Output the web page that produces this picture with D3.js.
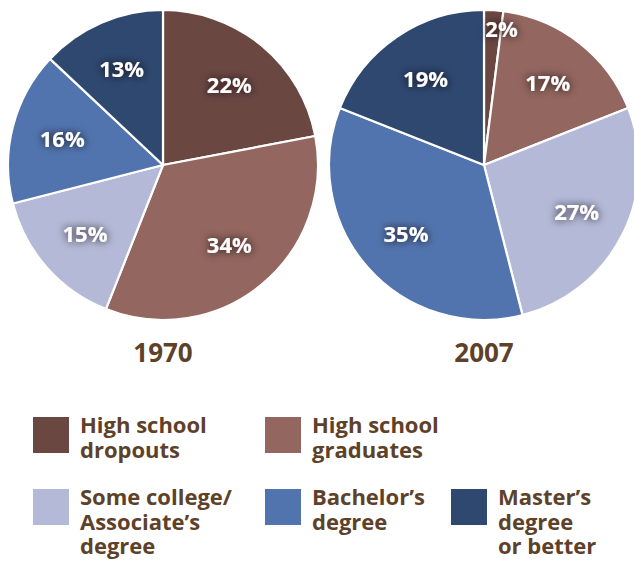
<!DOCTYPE html>
<html>
<head>
<meta charset="utf-8">
<script src="https://cdn.jsdelivr.net/npm/d3@7"></script>
<style>
  html, body { margin: 0; padding: 0; background: #ffffff; }
  svg { display: block; }
</style>
</head>
<body>
<div id="chart"></div>
<script>
// ---- Data ----
const categories = ["High school dropouts", "High school graduates", "Some college/Associate’s degree", "Bachelor’s degree", "Master’s degree or better"];
const legendLines = [["High school", "dropouts"], ["High school", "graduates"], ["Some college/", "Associate’s", "degree"], ["Bachelor’s", "degree"], ["Master’s", "degree", "or better"]];
const years = ["1970", "2007"];
const values1970 = [22, 34, 15, 16, 13];
const values2007 = [2, 17, 27, 35, 19];
const colors = ["#6b4742", "#93665f", "#b4b9d7", "#5274ae", "#2f4870"];

const W = 634, H = 563;
const textColor = "#5e4129";
const FONT = "'Open Sans', sans-serif";
const svg = d3.select("#chart").append("svg").attr("width", W).attr("height", H);

// glow filter for labels
const defs = svg.append("defs");
const f = defs.append("filter").attr("id", "glow").attr("x", "-60%").attr("y", "-80%").attr("width", "220%").attr("height", "260%");
f.append("feGaussianBlur").attr("in", "SourceAlpha").attr("stdDeviation", 4.5).attr("result", "b");
f.append("feFlood").attr("flood-color", "#140b08").attr("flood-opacity", 0.85).attr("result", "c");
f.append("feComposite").attr("in", "c").attr("in2", "b").attr("operator", "in").attr("result", "s");
const m = f.append("feMerge");
m.append("feMergeNode").attr("in", "s");
m.append("feMergeNode").attr("in", "SourceGraphic");

const R = 155;
const pies = [
  { year: years[0], values: values1970, cx: 163, cy: 165 },
  { year: years[1], values: values2007, cx: 484, cy: 165 }
];

const pie = d3.pie().sort(null).value(d => d);
const arc = d3.arc().innerRadius(0).outerRadius(R);

pies.forEach(p => {
  const g = svg.append("g").attr("transform", `translate(${p.cx},${p.cy})`);
  const arcs = pie(p.values);
  g.selectAll("path").data(arcs).enter().append("path")
    .attr("d", arc)
    .attr("fill", (d, i) => colors[i])
    .attr("stroke", "#ffffff")
    .attr("stroke-width", 2.2)
    .attr("stroke-linejoin", "round");

  g.selectAll("text.lbl").data(arcs).enter().append("text")
    .attr("class", "lbl")
    .attr("transform", d => {
      const small = (d.endAngle - d.startAngle) < 0.2;
      const lr = small ? 136 : 104;
      const la = d3.arc().innerRadius(lr).outerRadius(lr);
      const c = la.centroid(d);
      if (small) c[0] += 9;
      return `translate(${c[0]},${c[1]})`;
    })
    .attr("text-anchor", "middle")
    .attr("dy", "0.36em")
    .attr("font-family", FONT)
    .attr("font-weight", 700)
    .attr("font-size", 22)
    .attr("fill", "#ffffff")
    .attr("filter", "url(#glow)")
    .text(d => d.data + "%");

  svg.append("text")
    .attr("x", p.cx).attr("y", 362)
    .attr("text-anchor", "middle")
    .attr("font-family", FONT)
    .attr("font-weight", 700)
    .attr("font-size", 26)
    .attr("fill", textColor)
    .text(p.year);
});

// ---- Legend ----
const legendPos = [
  { x: 33, y: 417 }, { x: 265, y: 417 },
  { x: 33, y: 489 }, { x: 265, y: 489 }, { x: 451, y: 489 }
];
const lg = svg.append("g");
categories.forEach((c, i) => {
  const pos = legendPos[i];
  const item = lg.append("g").attr("transform", `translate(${pos.x},${pos.y})`);
  item.append("rect").attr("width", 36).attr("height", 36).attr("fill", colors[i]);
  const t = item.append("text")
    .attr("x", 47).attr("y", 16)
    .attr("font-family", FONT)
    .attr("font-weight", 700)
    .attr("font-size", 22)
    .attr("fill", textColor);
  legendLines[i].forEach((ln, j) => {
    t.append("tspan").attr("x", 47).attr("y", 16 + j * 24.5).text(ln);
  });
});
</script>
</body>
</html>
